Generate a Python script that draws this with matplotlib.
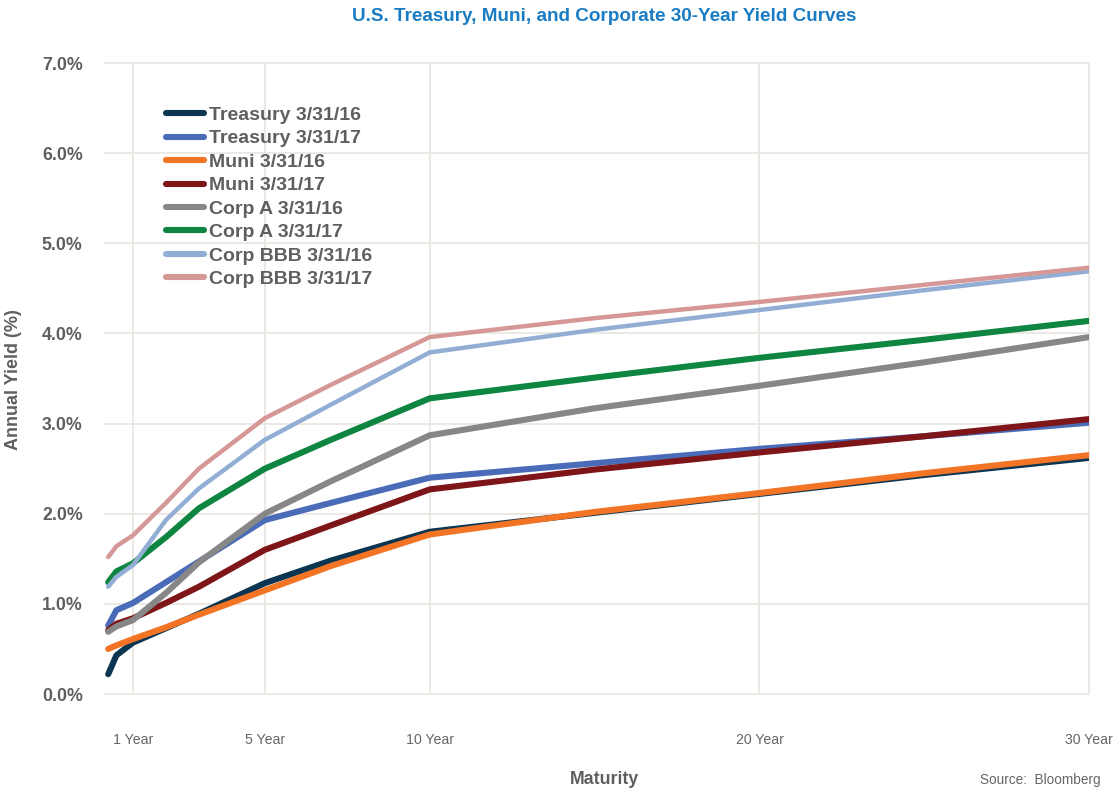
import matplotlib
matplotlib.use("Agg")
import matplotlib.pyplot as plt

plt.rcParams['font.family'] = ['Liberation Sans', 'DejaVu Sans']

# === Datos ===
maturity = [0.25, 0.5, 1, 2, 3, 5, 7, 10, 15, 20, 25, 30]

treasury_16 = [0.22, 0.43, 0.57, 0.73, 0.89, 1.23, 1.48, 1.80, 2.01, 2.22, 2.43, 2.62]
treasury_17 = [0.76, 0.93, 1.01, 1.24, 1.47, 1.93, 2.12, 2.40, 2.56, 2.72, 2.86, 3.01]
muni_16 = [0.50, 0.54, 0.61, 0.74, 0.88, 1.15, 1.42, 1.77, 2.02, 2.23, 2.45, 2.65]
muni_17 = [0.71, 0.78, 0.84, 1.01, 1.19, 1.60, 1.87, 2.27, 2.49, 2.68, 2.86, 3.05]
corp_a_16 = [0.69, 0.75, 0.82, 1.12, 1.46, 2.00, 2.36, 2.87, 3.17, 3.42, 3.68, 3.96]
corp_a_17 = [1.24, 1.36, 1.45, 1.74, 2.06, 2.50, 2.82, 3.28, 3.51, 3.73, 3.93, 4.14]
corp_bbb_16 = [1.19, 1.30, 1.43, 1.93, 2.28, 2.82, 3.21, 3.79, 4.04, 4.26, 4.48, 4.69]
corp_bbb_17 = [1.52, 1.64, 1.76, 2.12, 2.50, 3.06, 3.43, 3.96, 4.17, 4.35, 4.54, 4.73]

series = [
    ("Treasury 3/31/16", treasury_16, "#0c3551", 4.4),
    ("Treasury 3/31/17", treasury_17, "#4a6bb8", 4.4),
    ("Muni 3/31/16", muni_16, "#f27424", 4.4),
    ("Muni 3/31/17", muni_17, "#7e1519", 4.4),
    ("Corp A 3/31/16", corp_a_16, "#878787", 4.4),
    ("Corp A 3/31/17", corp_a_17, "#0e8540", 4.4),
    ("Corp BBB 3/31/16", corp_bbb_16, "#93aed5", 3.2),
    ("Corp BBB 3/31/17", corp_bbb_17, "#d69797", 3.2),
]

x_ticks = [1, 5, 10, 20, 30]
x_labels = ["1 Year", "5 Year", "10 Year", "20 Year", "30 Year"]
y_ticks = [0, 1, 2, 3, 4, 5, 6, 7]

gray = "#5f5f5f"
grid_col = "#ebe7e2"

# === Gráfico ===
fig = plt.figure(figsize=(11.16, 7.91), dpi=100)
ax = fig.add_axes([0.094, 0.1226, 0.882, 0.7977])

for label, vals, color, lw in series:
    ax.plot(maturity, vals, color=color, linewidth=lw, label=label,
            solid_capstyle="round", solid_joinstyle="round")

ax.set_xlim(0.15, 30)
ax.set_ylim(0, 7)
ax.set_xticks(x_ticks)
ax.set_xticklabels(x_labels)
ax.set_yticks(y_ticks)
ax.set_yticklabels([f"{v:.1f}%" for v in y_ticks])

ax.grid(True, color=grid_col, linewidth=1.3)
ax.set_axisbelow(True)
for gl in ax.get_xgridlines() + ax.get_ygridlines():
    gl.set_clip_on(False)
for s in ax.spines.values():
    s.set_visible(False)

ax.tick_params(axis="x", length=0, pad=28, labelsize=10.2, labelcolor="#666666")
ax.tick_params(axis="y", length=0, pad=16, labelsize=12.8, labelcolor=gray)
for t in ax.get_yticklabels():
    t.set_fontweight("bold")

leg = ax.legend(loc="upper left", bbox_to_anchor=(0.044, 0.959), frameon=False,
                handlelength=1.95, handletextpad=0.3, labelspacing=0.3,
                prop={"size": 14.0, "weight": "bold"})
for t in leg.get_texts():
    t.set_color(gray)
for h in leg.get_lines():
    h.set_linewidth(4.4)
    h.set_solid_capstyle("round")

fig.text(0.541, 0.979, "U.S. Treasury, Muni, and Corporate 30-Year Yield Curves",
         ha="center", va="center", color="#1a7cc3", fontsize=13.6, fontweight="bold")
fig.text(0.0125, 0.52, "Annual Yield (%)", rotation=90, ha="center", va="center",
         color=gray, fontsize=13.0, fontweight="bold")
fig.text(0.542, 0.014, "Maturity", ha="center", va="center",
         color=gray, fontsize=12.8, fontweight="bold")
fig.text(0.986, 0.014, "Source:  Bloomberg", ha="right", va="center",
         color="#666666", fontsize=9.8)

fig.savefig("out.png", dpi=100)
